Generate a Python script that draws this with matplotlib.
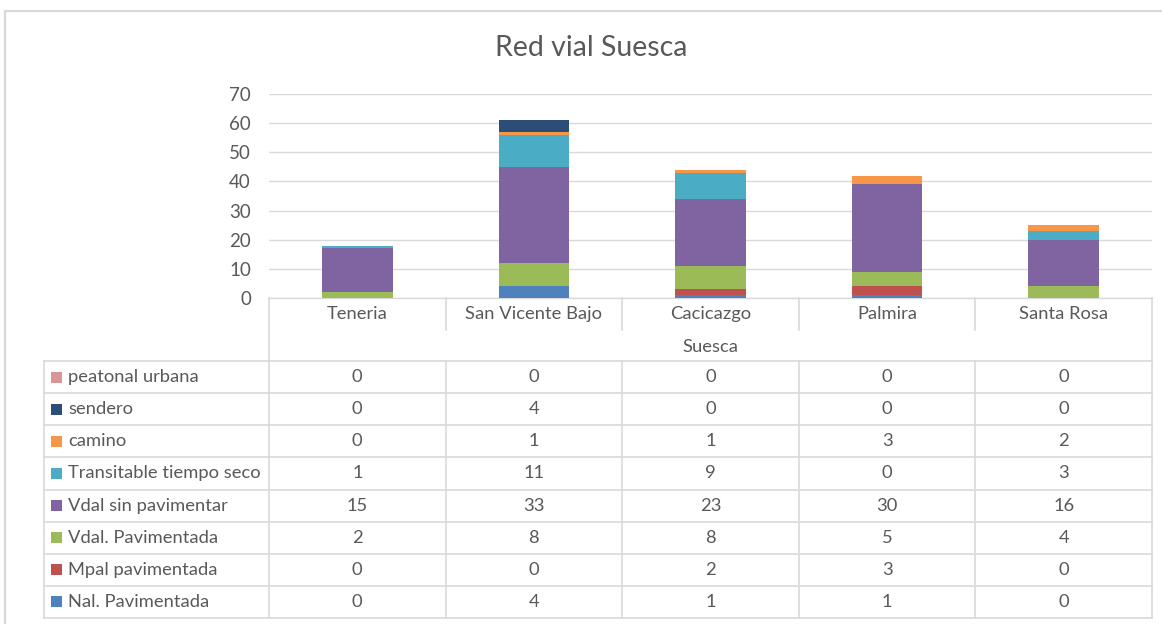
import matplotlib
matplotlib.use("Agg")
import matplotlib.pyplot as plt
from matplotlib.lines import Line2D
from matplotlib.patches import Rectangle
import numpy as np

plt.rcParams['font.family'] = ['Lato', 'DejaVu Sans']

title = "Red vial Suesca"
group_label = "Suesca"
categories = ["Teneria", "San Vicente Bajo", "Cacicazgo", "Palmira", "Santa Rosa"]

# series listed bottom of stack first
series_names = ["Nal. Pavimentada", "Mpal pavimentada", "Vdal. Pavimentada",
                "Vdal sin pavimentar", "Transitable tiempo seco", "camino",
                "sendero", "peatonal urbana"]
nal_pavimentada = [0, 4, 1, 1, 0]
mpal_pavimentada = [0, 0, 2, 3, 0]
vdal_pavimentada = [2, 8, 8, 5, 4]
vdal_sin_pavimentar = [15, 33, 23, 30, 16]
transitable_tiempo_seco = [1, 11, 9, 0, 3]
camino = [0, 1, 1, 3, 2]
sendero = [0, 4, 0, 0, 0]
peatonal_urbana = [0, 0, 0, 0, 0]
series_values = [nal_pavimentada, mpal_pavimentada, vdal_pavimentada,
                 vdal_sin_pavimentar, transitable_tiempo_seco, camino,
                 sendero, peatonal_urbana]
colors = ["#4F81BD", "#C0504D", "#9BBB59", "#8064A2", "#4BACC6", "#F79646",
          "#2C4D75", "#D99694"]
yticks = [0, 10, 20, 30, 40, 50, 60, 70]

W, H = 1162, 624
TXT = "#595959"
GRID = "#D9D9D9"
FS = 13.2

fig = plt.figure(figsize=(W / 100, H / 100), dpi=100)

# plot area in pixels
px_left, px_right, px_top, px_bottom = 269, 1152, 94, 298
ax = fig.add_axes([px_left / W, 1 - px_bottom / H,
                   (px_right - px_left) / W, (px_bottom - px_top) / H])
x = np.arange(len(categories))
bottom = np.zeros(len(categories))
for name, vals, c in zip(series_names, series_values, colors):
    ax.bar(x, vals, width=0.4, bottom=bottom, color=c, label=name, zorder=3,
           linewidth=0)
    bottom += np.array(vals)
ax.set_xlim(-0.5, len(categories) - 0.5)
ax.set_ylim(0, 70)
ax.set_yticks(yticks)
ax.set_yticklabels([str(t) for t in yticks])
ax.yaxis.grid(True, color=GRID, linewidth=1.0, zorder=0)
ax.tick_params(axis='y', length=0, pad=13, labelsize=13.5, labelcolor=TXT)
ax.set_xticks(x)
ax.set_xticklabels(categories)
ax.tick_params(axis='x', length=0, pad=6, labelsize=FS, labelcolor=TXT)
for s in ["top", "right", "left"]:
    ax.spines[s].set_visible(False)
ax.spines["bottom"].set_color(GRID)
ax.spines["bottom"].set_linewidth(1.0)
ax.set_facecolor("none")

# overlay in pixel coordinates for frame and data table
ov = fig.add_axes([0, 0, 1, 1], zorder=-1)
ov.set_xlim(0, W)
ov.set_ylim(H, 0)
ov.axis("off")

def hline(y, x0, x1, col=GRID, lw=1.2):
    ov.add_line(Line2D([x0, x1], [y, y], color=col, lw=lw))

def vline(xp, y0, y1, col=GRID, lw=1.2):
    ov.add_line(Line2D([xp, xp], [y0, y1], color=col, lw=lw))

# outer chart frame
hline(11, 5, W, col="#D9D9D9", lw=1.6)
vline(5, 11, H, col="#D9D9D9", lw=1.6)

ov.text(591, 48, title, ha="center", va="center", fontsize=20.5, color=TXT)

col_w = (px_right - px_left) / len(categories)
col_edges = [px_left + i * col_w for i in range(len(categories) + 1)]
col_centers = [px_left + (i + 0.5) * col_w for i in range(len(categories))]

header_split = 330
header_bottom = 361
table_left = 44
table_bottom = 618
n_rows = len(series_names)
row_h = (table_bottom - header_bottom) / n_rows

# verticals
vline(px_left, px_bottom, table_bottom)
vline(px_right, px_bottom, table_bottom)
for xe in col_edges[1:-1]:
    vline(xe, px_bottom, header_split)
    vline(xe, header_bottom, table_bottom)
vline(table_left, header_bottom, table_bottom)

# group label
ov.text((px_left + px_right) / 2, (header_split + header_bottom) / 2 + 1,
        group_label, ha="center", va="center", fontsize=FS, color=TXT)

# horizontals
hline(header_bottom, table_left, px_right)
for r in range(1, n_rows + 1):
    hline(header_bottom + r * row_h, table_left, px_right)

# table rows (top row = last series)
for r, idx in enumerate(range(n_rows - 1, -1, -1)):
    yc = header_bottom + (r + 0.5) * row_h
    ov.add_patch(Rectangle((51, yc - 5.5), 11, 11, color=colors[idx], lw=0))
    ov.text(68, yc, series_names[idx], ha="left", va="center",
            fontsize=FS, color=TXT)
    for ci, v in enumerate(series_values[idx]):
        ov.text(col_centers[ci], yc, str(v), ha="center", va="center",
                fontsize=FS, color=TXT)

fig.savefig("out.png", dpi=100, facecolor="white")
